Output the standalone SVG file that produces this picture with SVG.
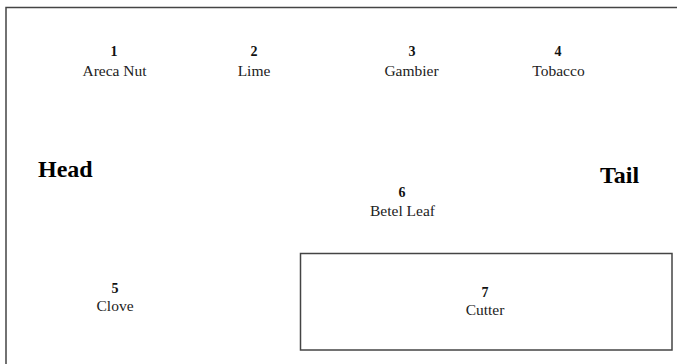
<svg xmlns="http://www.w3.org/2000/svg" width="677" height="364" viewBox="0 0 677 364">
<style>
.num{font-family:"Liberation Serif","Times New Roman",serif;font-weight:bold;font-size:14px;fill:#111;text-anchor:middle}
.lbl{font-family:"Liberation Serif","Times New Roman",serif;font-size:15.5px;fill:#222;text-anchor:middle}
.big{font-family:"Liberation Serif","Times New Roman",serif;font-weight:bold;font-size:24px;fill:#000}
.frame{stroke:#444;stroke-width:1.5;fill:none}
</style>
<rect width="677" height="364" fill="#fff"/>
<g id="frame">
<path class="frame" d="M6,364 V7.5 H677"/>
</g>
<g id="connectors"></g>
<g id="n1"><text class="num" x="114" y="56">1</text><text class="lbl" x="114.5" y="76">Areca Nut</text></g>
<g id="n2"><text class="num" x="254" y="56">2</text><text class="lbl" x="254" y="76">Lime</text></g>
<g id="n3"><text class="num" x="412" y="56">3</text><text class="lbl" x="411.5" y="76">Gambier</text></g>
<g id="n4"><text class="num" x="558" y="56">4</text><text class="lbl" x="558.5" y="76">Tobacco</text></g>
<g id="head"><text class="big" x="38" y="177">Head</text></g>
<g id="tail"><text class="big" x="600" y="183">Tail</text></g>
<g id="n6"><text class="num" x="402" y="197">6</text><text class="lbl" x="402.5" y="216">Betel Leaf</text></g>
<g id="n5"><text class="num" x="115" y="293">5</text><text class="lbl" x="115" y="311">Clove</text></g>
<g id="n7"><rect class="frame" x="300.5" y="253.5" width="371.5" height="96.5" stroke-width="1.3"/><text class="num" x="485" y="297">7</text><text class="lbl" x="485" y="315">Cutter</text></g>
</svg>
